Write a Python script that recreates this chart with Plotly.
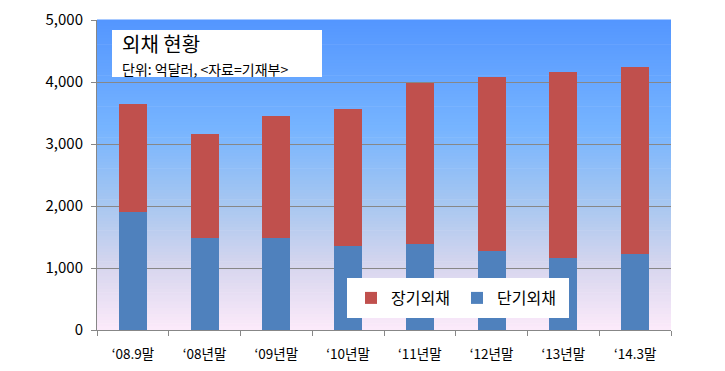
import plotly.graph_objects as go

categories = ["‘08.9말", "‘08년말", "‘09년말", "‘10년말", "‘11년말", "‘12년말", "‘13년말", "‘14.3말"]
short_term = [1905, 1490, 1490, 1360, 1392, 1280, 1156, 1232]
long_term = [1748, 1665, 1958, 2200, 2600, 2808, 2998, 3018]

FONT = "Noto Sans CJK KR, Malgun Gothic, sans-serif"
RED = "#C0504D"
BLUE = "#4F81BD"

fig = go.Figure()
fig.add_bar(x=categories, y=short_term, name="단기외채", marker=dict(color=BLUE, line=dict(width=0)))
fig.add_bar(x=categories, y=long_term, name="장기외채", marker=dict(color=RED, line=dict(width=0)))

# gradient plot background via stacked stripes
stops = [(0.0, (84, 150, 255)), (0.35, (118, 180, 255)), (0.6, (168, 199, 240)),
         (0.8, (215, 214, 238)), (1.0, (252, 234, 250))]

def col(t):
    for i in range(len(stops) - 1):
        t0, c0 = stops[i]
        t1, c1 = stops[i + 1]
        if t0 <= t <= t1:
            f = (t - t0) / (t1 - t0)
            return "rgb(%d,%d,%d)" % tuple(round(c0[k] + (c1[k] - c0[k]) * f) for k in range(3))
    return "rgb(%d,%d,%d)" % stops[-1][1]

shapes = []
N = 100
for i in range(N):
    t = (i + 0.5) / N
    shapes.append(dict(type="rect", xref="paper", yref="paper", x0=0, x1=1,
                       y0=1 - (i + 1) / N, y1=1 - i / N + 0.002, line=dict(width=0),
                       fillcolor=col(t), layer="below"))

L, R, T, B = 97, 54, 20, 41
W, H = 725, 371
pw, ph = W - L - R, H - T - B

def px(x):
    return (x - L) / pw

def py(y):
    return (H - B - y) / ph

# title box
shapes.append(dict(type="rect", xref="paper", yref="paper", x0=px(112), x1=px(322),
                   y0=py(77), y1=py(30), fillcolor="white", line=dict(width=0), layer="above"))
# legend box
shapes.append(dict(type="rect", xref="paper", yref="paper", x0=px(347), x1=px(569),
                   y0=py(318), y1=py(278), fillcolor="white", line=dict(width=0), layer="above"))

fig.update_layout(
    width=W, height=H,
    margin=dict(l=L, r=R, t=T, b=B),
    paper_bgcolor="white",
    plot_bgcolor="rgba(0,0,0,0)",
    barmode="stack",
    bargap=0.61,
    shapes=shapes,
    font=dict(family=FONT, color="black"),
    showlegend=True,
    legend=dict(orientation="h", x=px(351), y=py(298), xanchor="left", yanchor="middle",
                bgcolor="rgba(0,0,0,0)", traceorder="reversed", font=dict(size=16, family=FONT),
                entrywidth=61, entrywidthmode="pixels"),
    annotations=[
        dict(text="외채 현황", xref="paper", yref="paper", x=px(120), y=py(44),
             xanchor="left", yanchor="middle", showarrow=False, font=dict(size=20, family=FONT)),
        dict(text="단위: 억달러, &lt;자료=기재부&gt;", xref="paper", yref="paper", x=px(120), y=py(69),
             xanchor="left", yanchor="middle", showarrow=False, font=dict(size=14, family=FONT)),
    ],
)
fig.update_yaxes(range=[0, 5000], dtick=1000, tickformat=",", showgrid=True, gridcolor="#878787",
                 gridwidth=1, showline=True, linecolor="#878787", ticks="outside", ticklen=5,
                 tickcolor="#878787", tickfont=dict(size=15, family=FONT), zeroline=False,
                 ticklabelstandoff=5, automargin=False)
fig.update_xaxes(showline=True, linecolor="#878787", ticks="outside", ticklen=5, tickcolor="#878787",
                 tickson="boundaries", tickfont=dict(size=13.5, family=FONT), showgrid=False,
                 ticklabelstandoff=12, automargin=False)

fig.write_html("out.html", config={"displayModeBar": False},
               post_script="document.body.style.margin='0';")
